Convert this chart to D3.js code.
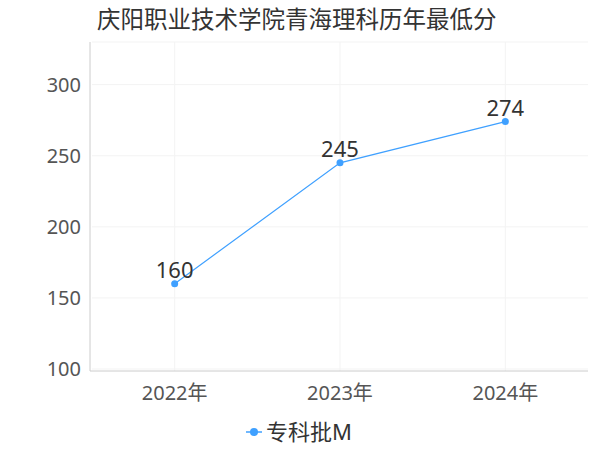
<!DOCTYPE html>
<html><head><meta charset="utf-8">
<script src="https://cdn.jsdelivr.net/npm/d3@7"></script>
<style>body{margin:0;background:#fff;font-family:"Noto Sans","Noto Sans CJK SC",sans-serif;}</style>
</head><body><svg></svg>
<script>
const years = ["2022年", "2023年", "2024年"];
const scores = [160, 245, 274];
const yTicks = [100, 150, 200, 250, 300];

const [w, h] = [600, 450];
const svg = d3.select("svg").attr("width", w).attr("height", h);
const x = d3.scalePoint().domain(years).range([92, 588]).padding(0.5);
const y = d3.scaleLinear().domain([100, 330]).range([369, 42]);

svg.append("text").attr("x", 97).attr("y", 28).attr("font-size", 23.5).attr("fill", "#333").text("庆阳职业技术学院青海理科历年最低分");

// grid
svg.append("g").selectAll("line").data(yTicks.concat([330])).join("line")
  .attr("x1", 92).attr("x2", 588).attr("y1", d => y(d)).attr("y2", d => y(d)).attr("stroke", "#f3f3f3");
svg.append("g").selectAll("line").data(years).join("line")
  .attr("x1", d => x(d)).attr("x2", d => x(d)).attr("y1", 42).attr("y2", 371).attr("stroke", "#f3f3f3");

// axes
svg.append("line").attr("x1", 90).attr("x2", 90).attr("y1", 42).attr("y2", 371).attr("stroke", "#ccc");
svg.append("line").attr("x1", 90).attr("x2", 588).attr("y1", 371).attr("y2", 371).attr("stroke", "#ccc");
svg.append("g").selectAll("text").data(yTicks).join("text")
  .attr("x", 81).attr("y", d => y(d) + 7).attr("text-anchor", "end").attr("font-size", 20).attr("fill", "#555").text(d => d);
svg.append("g").selectAll("text").data(years).join("text")
  .attr("x", d => x(d)).attr("y", 400).attr("text-anchor", "middle").attr("font-size", 20).attr("fill", "#555").text(d => d);

// line
const line = d3.line().x((d, i) => x(years[i])).y(d => y(d));
svg.append("path").datum(scores).attr("d", line).attr("fill", "none").attr("stroke", "#3fa0ff").attr("stroke-width", 1.2);
svg.append("g").selectAll("circle").data(scores).join("circle")
  .attr("cx", (d, i) => x(years[i])).attr("cy", d => y(d)).attr("r", 3.5).attr("fill", "#3fa0ff");
svg.append("g").selectAll("text").data(scores).join("text")
  .attr("x", (d, i) => x(years[i])).attr("y", d => y(d) - 6).attr("text-anchor", "middle")
  .attr("font-size", 22).attr("fill", "#333").text(d => d);

// legend
svg.append("line").attr("x1", 246).attr("x2", 262).attr("y1", 432).attr("y2", 432).attr("stroke", "#3fa0ff").attr("stroke-width", 1.5);
svg.append("circle").attr("cx", 254).attr("cy", 432).attr("r", 4).attr("fill", "#3fa0ff");
svg.append("text").attr("x", 266).attr("y", 440).attr("font-size", 22).attr("fill", "#333").text("专科批M");
</script></body></html>
